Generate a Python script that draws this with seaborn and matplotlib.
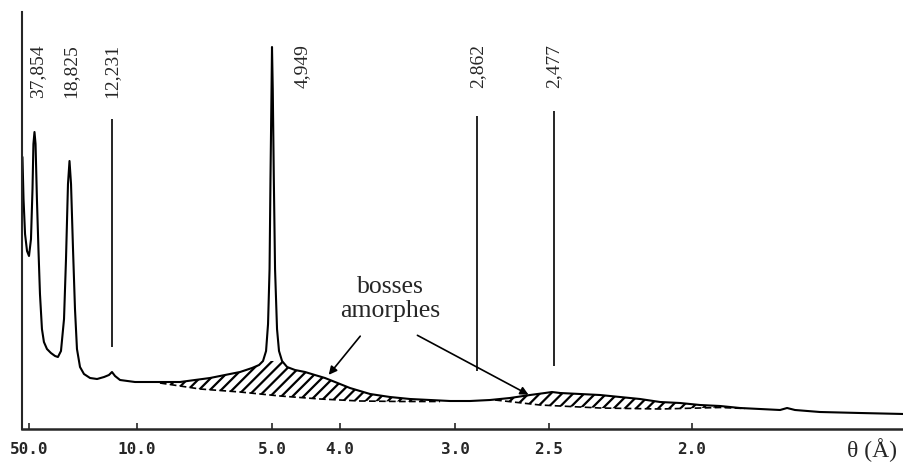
import numpy as np
import pandas as pd
import matplotlib
matplotlib.use("Agg")
import matplotlib.pyplot as plt
import seaborn as sns

# diffractogram (2-theta in degrees, Cu K-alpha; intensity in arbitrary units)
two_theta = [1.34, 1.41, 1.51, 1.64, 1.77, 1.90, 2.00, 2.06, 2.13, 2.20, 2.29, 2.39, 2.49, 2.62,
             2.75, 2.95, 3.21, 3.48, 3.67, 3.87, 4.07, 4.20, 4.33, 4.43, 4.53, 4.66, 4.79, 4.92,
             5.12, 5.38, 5.78, 6.24, 6.70, 7.02, 7.22, 7.42, 7.75, 8.73, 9.72, 10.70, 11.69,
             12.67, 13.66, 14.64, 15.63, 16.42, 16.88, 17.14, 17.34, 17.47, 17.57, 17.63, 17.70,
             17.73, 17.78, 17.85, 17.93, 18.06, 18.19, 18.39, 18.72, 19.24, 19.90, 20.55, 21.21,
             21.87, 22.85, 24.17, 25.48, 26.79, 28.11, 29.42, 30.74, 32.05, 33.36, 34.68, 35.66,
             36.12, 36.65, 37.96, 39.27, 40.59, 41.90, 43.22, 44.53, 45.84, 47.16, 48.47, 49.78,
             51.10, 51.56, 52.08, 53.72, 56.35, 59.24]
intensity = [272, 230, 195, 178, 173, 190, 240, 285, 297, 285, 230, 180, 135, 100,
             87, 80, 76, 73, 72, 78, 110, 170, 245, 268, 245, 180, 120, 80,
             62, 55, 51, 50, 52, 54, 57, 53, 49, 47, 47, 47, 47,
             49, 51, 54, 57, 61, 64, 68, 78, 105, 160, 250, 340,
             382, 340, 250, 160, 100, 78, 68, 62, 59, 57, 54, 51,
             47, 41, 35, 32, 30, 29, 28, 28, 29, 31, 34, 36,
             37, 36, 35, 34, 32, 30, 27, 26, 24, 23, 21, 20,
             19, 21, 19, 17, 16, 15]

# dashed baselines under the two amorphous humps
hump1_x = [10.37, 13.00, 15.63, 18.26, 20.88, 23.51, 26.14, 28.77]
hump1_y = [46, 40, 37, 33, 30, 28, 27.5, 27.5]
hump2_x = [32.38, 35.33, 39.27, 43.22, 47.16, 48.80]
hump2_y = [29, 24, 21, 20, 21.5, 20.5]

# x axis ticks given as d-spacings (Angstrom)
tick_d = [50.0, 10.0, 5.0, 4.0, 3.0, 2.5, 2.0]
tick_labels = ["50.0", "10.0", "5.0", "4.0", "3.0", "2.5", "2.0"]

# annotated reflections
peak_d = [37.854, 18.825, 12.231, 4.949, 2.862, 2.477]
peak_labels = ["37,854", "18,825", "12,231", "4,949", "2,862", "2,477"]

WAVELENGTH = 1.5406


def d_to_2theta(d):
    return 2 * np.degrees(np.arcsin(WAVELENGTH / (2 * np.asarray(d))))


sns.set_style("ticks")
plt.rcParams['font.family'] = ['Liberation Serif', 'DejaVu Serif']
plt.rcParams['hatch.linewidth'] = 1.6

fig = plt.figure(figsize=(9.04, 4.64), dpi=100)
ax = fig.add_axes([22 / 904, 34 / 464, 882 / 904, 417 / 464])

df = pd.DataFrame({'two_theta': two_theta, 'intensity': intensity})
sns.lineplot(data=df, x='two_theta', y='intensity', color='black', lw=1.5,
             estimator=None, sort=False, ax=ax)

# hatched amorphous humps between the curve and a dashed baseline
# (the sharp 4.949 reflection is left out of the hatched area)
tt = np.array(two_theta)
ii = np.array(intensity)
for bx, by in [(hump1_x, hump1_y), (hump2_x, hump2_y)]:
    m = (tt > bx[0]) & (tt < bx[-1]) & (ii <= 70)
    poly_x = np.concatenate([[bx[0]], tt[m], bx[::-1]])
    poly_y = np.concatenate([[by[0]], ii[m], by[::-1]])
    ax.fill(poly_x, poly_y, facecolor='none', edgecolor='black', hatch='///', lw=0)
    ax.plot(bx, by, color='black', lw=1.2, ls=(0, (4, 2)))

# peak labels and marker lines
peak_tt = d_to_2theta(peak_d)
label_shift = {"4,949": 1.8, "18,825": -0.2}
marker_lines = {"12,231": (82, 310), "2,862": (58, 313), "2,477": (63, 318)}
for lab, x in zip(peak_labels, peak_tt):
    ax.text(x + label_shift.get(lab, 0), 386, lab, rotation=90, ha='center', va='top',
            fontsize=14)
    if lab in marker_lines:
        lo, hi = marker_lines[lab]
        ax.vlines(x, lo, hi, color='black', lw=1.2)

# "bosses amorphes" with arrows
ax.text(25.48, 131, "bosses\namorphes", ha='center', va='center', fontsize=18.5,
        linespacing=1.15)
arrow = dict(arrowstyle='-|>', color='black', lw=1.2, mutation_scale=12)
ax.annotate("", xy=(21.34, 52), xytext=(23.64, 95), arrowprops=arrow)
ax.annotate("", xy=(34.74, 33), xytext=(27.12, 95), arrowprops=arrow)

ax.set_xlim(1.31, 59.24)
ax.set_ylim(0, 417)
ax.set_xlabel('')
ax.set_ylabel('')
ax.set_yticks([])
ax.set_xticks(d_to_2theta(tick_d), labels=tick_labels, family='DejaVu Sans Mono',
              fontweight='bold', fontsize=11.5)
ax.tick_params(axis='x', direction='in', length=4, width=1.2, pad=9)
sns.despine(ax=ax)
ax.spines['left'].set_linewidth(1.5)
ax.spines['bottom'].set_linewidth(1.8)

fig.text(872 / 904, 7 / 464, "θ (Å)", ha='center', va='baseline', fontsize=17)

fig.savefig("out.png", dpi=100)
